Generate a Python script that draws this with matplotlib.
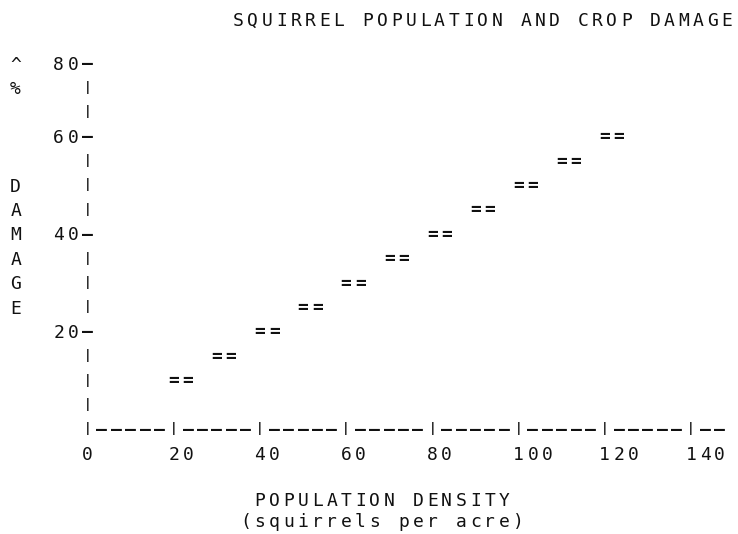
import matplotlib
matplotlib.use("Agg")
import matplotlib.pyplot as plt
from matplotlib.transforms import offset_copy

# ---------------- data ----------------
density = [20, 30, 40, 50, 60, 70, 80, 90, 100, 110, 120]   # squirrels per acre
damage = [10, 15, 20, 25, 30, 35, 40, 45, 50, 55, 60]        # % damage
x_ticks = [0, 20, 40, 60, 80, 100, 120, 140]
x_tick_labels = ["0", "20", "40", "60", "80", "100", "120", "140"]
# the text plot prints "80" on the top row, which sits one text row (5 units) above 70
y_ticks = [20, 40, 60, 75]
y_tick_labels = ["20", "40", "60", "80"]
title = "SQUIRREL POPULATION AND CROP DAMAGE"
x_label = "POPULATION DENSITY"
x_sublabel = "(squirrels per acre)"
y_label = ["^", "%", "", "", "", "D", "A", "M", "A", "G", "E"]

# ---------------- character-grid layout ----------------
PX_X = 4.31          # pixels per x unit
X_ORIGIN = 87.5      # pixel column of x = 0
PX_Y = 4.882         # pixels per y unit
Y_ORIGIN = 429.1     # pixel row of y = 0 (from top)
COL = 20 / 6         # one character cell in x units
ROW = 5              # one text row in y units
FS = 13              # main font size (pt)
FS_BAR = 9           # size for the "|" characters
FONT = "DejaVu Sans Mono"
WEIGHT = "normal"
INK = "#111111"

fig = plt.figure(figsize=(7.38, 5.34), dpi=100)
ax = fig.add_axes([0, 0, 1, 1])
ax.set_xlim(-X_ORIGIN / PX_X, (738 - X_ORIGIN) / PX_X)
ax.set_ylim((Y_ORIGIN - 534) / PX_Y, Y_ORIGIN / PX_Y)
ax.axis("off")

_trans_cache = {}


def center_offset(ch, fs):
    em = fs * 100 / 72.0
    if ch == "|":
        return 0.262 * em
    if ch == "=":
        return 0.33 * em
    if ch in "-\u2013":
        return 0.315 * em
    return 0.3645 * em


def trans_for(ch, fs):
    off = round(center_offset(ch, fs), 2)
    if off not in _trans_cache:
        _trans_cache[off] = offset_copy(ax.transData, fig=fig, x=0, y=-off, units="dots")
    return _trans_cache[off]


def put(x, y, s, dx=COL, weight=WEIGHT):
    """write a string one character per grid cell, first character centred on x"""
    for i, ch in enumerate(s):
        if ch == " ":
            continue
        fs = FS_BAR if ch == "|" else FS
        glyph = "\u2013" if ch == "-" else ch
        w = "bold" if ch in "|-=" else weight
        ax.text(x + i * dx, y, glyph, transform=trans_for(ch, fs), ha="center",
                va="baseline", fontsize=fs, family=FONT, color=INK,
                fontweight=w)


# title
put(35.0, 84.0, title)

# vertical axis column
tick_rows = {t: lab for t, lab in zip(y_ticks, y_tick_labels)}
for k in range(1, 16):
    v = k * ROW
    if v in tick_rows:
        lab = tick_rows[v] + "-"
        put(-(len(lab) - 1) * COL, v, lab)
    else:
        put(0, v, "|")

# horizontal axis row
axis_str = ""
for i in range(len(x_ticks)):
    axis_str += "|" + ("-----" if i < len(x_ticks) - 1 else "--")
put(0, 0, axis_str)

# x tick labels
for t, lab in zip(x_ticks, x_tick_labels):
    put(t, -4.9, lab)

# y label, written vertically
for k, ch in enumerate(y_label):
    if ch:
        put(-5 * COL, y_ticks[-1] - k * ROW, ch)

# x labels
put(12 * COL, -14.5, x_label)
put(11 * COL, -18.7, x_sublabel)

# data points, each drawn as "=="
for x, y in zip(density, damage):
    put(x, y, "==")

fig.savefig("out.png", dpi=100, facecolor="white")
